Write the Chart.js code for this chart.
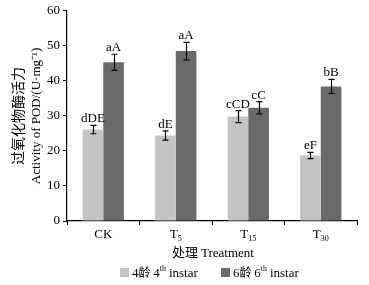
<!DOCTYPE html>
<html>
<head>
<meta charset="utf-8">
<script src="https://cdn.jsdelivr.net/npm/chart.js@4/dist/chart.umd.min.js"></script>
<style>
  html, body { margin: 0; padding: 0; background: #fff; }
  #wrap { width: 369px; height: 285px; }
</style>
</head>
<body>
<div id="wrap"><canvas id="pod" width="369" height="285"></canvas></div>
<script>
// data
const treatments = ["CK", "T5", "T15", "T30"];
const tickMain = ["CK", "T", "T", "T"];
const tickSub = ["", "5", "15", "30"];
const instar4 = [26.1, 24.4, 29.8, 18.7];
const instar4Err = [1.2, 1.3, 1.7, 0.9];
const instar4Sig = ["dDE", "dE", "cCD", "eF"];
const instar6 = [45.3, 48.5, 32.3, 38.4];
const instar6Err = [2.3, 2.5, 1.75, 2.0];
const instar6Sig = ["aA", "aA", "cC", "bB"];
const yTicks = [0, 10, 20, 30, 40, 50, 60];

const serif = "'Liberation Serif', 'Times New Roman', serif";
const cjk = "'Noto Sans CJK SC', sans-serif";
const lightGrey = "#c4c4c4";
const darkGrey = "#6a6a6a";

const errs = [instar4Err, instar6Err];
const sigs = [instar4Sig, instar6Sig];

// error bars, letters, axis labels with sub/superscripts, legend
const extras = {
  id: 'extras',
  afterDatasetsDraw(chart) {
    const ctx = chart.ctx;
    const y = chart.scales.y;
    const x = chart.scales.x;
    ctx.save();
    chart.data.datasets.forEach(function (ds, di) {
      const meta = chart.getDatasetMeta(di);
      meta.data.forEach(function (bar, i) {
        const v = ds.data[i];
        const e = errs[di][i];
        const top = y.getPixelForValue(v + e);
        const bot = y.getPixelForValue(v - e);
        const cx = Math.round(bar.x) + 0.5;
        ctx.strokeStyle = "#000";
        ctx.lineWidth = 1.2;
        ctx.beginPath();
        ctx.moveTo(cx, top); ctx.lineTo(cx, bot);
        ctx.moveTo(cx - 3, top); ctx.lineTo(cx + 3, top);
        ctx.moveTo(cx - 3, bot); ctx.lineTo(cx + 3, bot);
        ctx.stroke();
        ctx.fillStyle = "#000";
        ctx.font = "13px " + serif;
        ctx.textAlign = "center";
        ctx.textBaseline = "alphabetic";
        ctx.fillText(sigs[di][i], bar.x, top - 3);
      });
    });

    // category labels with subscripts
    treatments.forEach(function (t, i) {
      const px = x.getPixelForValue(i);
      const main = tickMain[i];
      const sub = tickSub[i];
      ctx.font = "13px " + serif;
      const w1 = ctx.measureText(main).width;
      ctx.font = "8px " + serif;
      const w2 = ctx.measureText(sub).width;
      let sx = px - (w1 + w2) / 2;
      ctx.textAlign = "left";
      ctx.font = "13px " + serif;
      ctx.fillText(main, sx, 238);
      ctx.font = "8px " + serif;
      ctx.fillText(sub, sx + w1, 241);
    });

    // x title
    ctx.textAlign = "left";
    ctx.font = "13px " + cjk;
    const p1 = "处理 ";
    const w1 = ctx.measureText(p1).width;
    ctx.font = "13px " + serif;
    const w2 = ctx.measureText("Treatment").width;
    let tx = 213 - (w1 + w2) / 2;
    ctx.font = "13px " + cjk;
    ctx.fillText(p1, tx, 257);
    ctx.font = "13px " + serif;
    ctx.fillText("Treatment", tx + w1, 257);

    // y title (two lines, rotated)
    ctx.save();
    ctx.translate(0, 116);
    ctx.rotate(-Math.PI / 2);
    ctx.textAlign = "center";
    ctx.font = "14px " + cjk;
    ctx.fillText("过氧化物酶活力", 0, 23);
    ctx.font = "13px " + serif;
    ctx.fillText("Activity of POD/(U·mg⁻¹)", 0, 40);
    ctx.restore();

    // legend
    const items = [
      { c: lightGrey, x: 120, n: "4", lab: "4" },
      { c: darkGrey, x: 221, n: "6", lab: "6" }
    ];
    items.forEach(function (it) {
      ctx.fillStyle = it.c;
      ctx.fillRect(it.x, 268, 9, 9);
      ctx.fillStyle = "#000";
      let lx = it.x + 12;
      ctx.font = "13px " + serif;
      ctx.fillText(it.n, lx, 277); lx += ctx.measureText(it.n).width;
      ctx.font = "12px " + cjk;
      ctx.fillText("龄 ", lx, 277); lx += ctx.measureText("龄 ").width;
      ctx.font = "13px " + serif;
      ctx.fillText(it.lab, lx, 277); lx += ctx.measureText(it.lab).width;
      ctx.font = "8px " + serif;
      ctx.fillText("th", lx, 271); lx += ctx.measureText("th").width + 3;
      ctx.font = "13px " + serif;
      ctx.fillText("instar", lx, 277);
    });
    ctx.restore();
  }
};

new Chart(document.getElementById('pod').getContext('2d'), {
  type: 'bar',
  data: {
    labels: treatments,
    datasets: [
      { label: "4龄 4th instar", data: instar4, backgroundColor: lightGrey,
        categoryPercentage: 0.57, barPercentage: 1.0 },
      { label: "6龄 6th instar", data: instar6, backgroundColor: darkGrey,
        categoryPercentage: 0.57, barPercentage: 1.0 }
    ]
  },
  options: {
    responsive: false,
    animation: false,
    devicePixelRatio: 1,
    layout: { padding: { top: 10, right: 12, left: 0, bottom: 0 } },
    plugins: { legend: { display: false }, tooltip: { enabled: false } },
    scales: {
      x: {
        grid: { display: true, drawOnChartArea: false, drawTicks: true, tickLength: 4, color: "#000", offset: true },
        border: { color: "#000", width: 1.2 },
        ticks: { display: false },
        afterFit: function (s) { s.height = 64; }
      },
      y: {
        min: 0, max: 60,
        afterBuildTicks: function (s) { s.ticks = yTicks.map(function (v) { return { value: v }; }); },
        grid: { drawOnChartArea: false, drawTicks: true, tickLength: 4, color: "#000" },
        border: { color: "#000", width: 1.2 },
        ticks: { color: "#000", font: { family: serif, size: 13 }, padding: 3 },
        afterFit: function (s) { s.width = 67; }
      }
    }
  },
  plugins: [extras]
});
</script>
</body>
</html>
